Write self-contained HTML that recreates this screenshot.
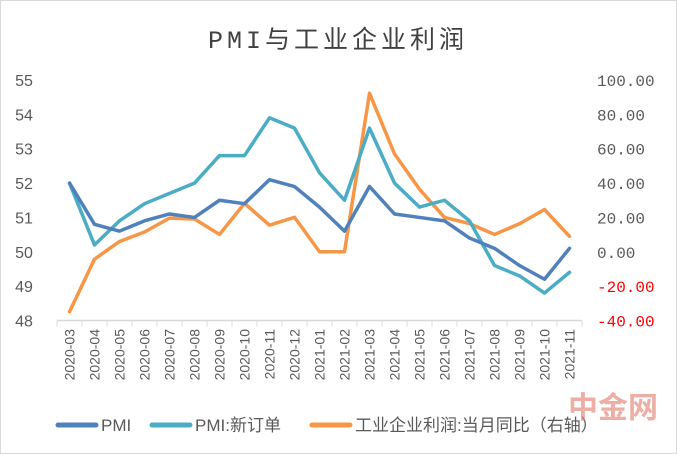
<!DOCTYPE html>
<html><head><meta charset="utf-8"><style>
body{margin:0;background:#fff;}
#c{position:relative;width:677px;height:454px;overflow:hidden;font-family:"Liberation Sans","Noto Sans CJK SC",sans-serif;}
svg text{font-family:"Liberation Sans","Noto Sans CJK SC",sans-serif;}
</style></head><body>
<div id="c">
<svg id="s" width="677" height="454">
<rect x="0.5" y="0.5" width="676" height="453" fill="#fff" stroke="#d9d9d9"/>
<text x="338" y="48" text-anchor="middle" font-size="25" letter-spacing="4" fill="#404040" style="font-family:'Liberation Mono','Noto Sans CJK SC',monospace">PMI与工业企业利润</text>
<g id="g"></g>
</svg>
</div>
<script>
const categories=["2020-03","2020-04","2020-05","2020-06","2020-07","2020-08","2020-09","2020-10","2020-11","2020-12","2021-01","2021-02","2021-03","2021-04","2021-05","2021-06","2021-07","2021-08","2021-09","2021-10","2021-11"];
const pmi=[52.0,50.8,50.6,50.9,51.1,51.0,51.5,51.4,52.1,51.9,51.3,50.6,51.9,51.1,51.0,50.9,50.4,50.1,49.6,49.2,50.1];
const newOrders=[52.0,50.2,50.9,51.4,51.7,52.0,52.8,52.8,53.9,53.6,52.3,51.5,53.6,52.0,51.3,51.5,50.9,49.6,49.3,48.8,49.4];
const profit=[-34.9,-4.3,6.0,11.5,19.6,19.1,10.1,28.2,15.5,20.1,0,0,92.3,57.0,36.4,20.0,16.4,10.1,16.3,24.6,9.0];
const leftTicks=[48,49,50,51,52,53,54,55];
const rightTicks=[-40,-20,0,20,40,60,80,100];
const NS="http://www.w3.org/2000/svg";
const g=document.getElementById('g');
const yTop=80,bot=320.5,x0=57,step=25;
const yL=v=>bot-(v-48)/(55-48)*(bot-yTop);
const yR=v=>bot-(v+40)/140*(bot-yTop);
const xC=i=>x0+step*(i+0.5);
function mk(t,a){const e=document.createElementNS(NS,t);for(const k in a)e.setAttribute(k,a[k]);g.appendChild(e);return e;}
leftTicks.forEach(v=>{const t=mk('text',{x:24,y:yL(v)+6,'text-anchor':'middle','font-size':16,fill:'#595959'});t.textContent=v;
});
rightTicks.forEach(v=>{const t=mk('text',{x:597,y:yR(v)+6,'font-size':16,fill:v<0?'#ff0000':'#595959',style:"font-family:'Liberation Mono',monospace"});t.textContent=v.toFixed(2);
});
const ax=mk('line',{x1:x0,x2:x0+step*categories.length,y1:bot,y2:bot,stroke:'#d9d9d9','stroke-width':1.5});

for(let i=0;i<=categories.length;i++){const l=mk('line',{x1:x0+step*i,x2:x0+step*i,y1:bot,y2:bot+6,stroke:'#d9d9d9'});
}
categories.forEach((c,i)=>{const t=mk('text',{x:0,y:0,'text-anchor':'end','font-size':14,fill:'#595959',transform:`translate(${xC(i)+5},329) rotate(-90)`});t.textContent=c;
});
function line(arr,sc,col,name){const p=mk('polyline',{points:arr.map((v,i)=>xC(i)+','+sc(v)).join(' '),fill:'none',stroke:col,'stroke-width':3.5,'stroke-linejoin':'round','stroke-linecap':'round'});
}
line(profit,yR,'#f79646','profit-line');
line(newOrders,yL,'#4bacc6','new-orders-line');
line(pmi,yL,'#4f81bd','pmi-line');
const leg=[['PMI','#4f81bd',58],['PMI:新订单','#4bacc6',152],['工业企业利润:当月同比（右轴）','#f79646',312]];
leg.forEach(([n,c,x])=>{const l=mk('line',{x1:x,x2:x+38,y1:425,y2:425,stroke:c,'stroke-width':5,'stroke-linecap':'round'});

const t=mk('text',{x:x+43,y:431,'font-size':17,fill:'#595959'});t.textContent=n;
});
const w=mk('text',{x:568,y:418,'font-size':30,fill:'#e07a6a','font-weight':'bold',opacity:0.6});w.textContent='中金网';

</script>
</body></html>
